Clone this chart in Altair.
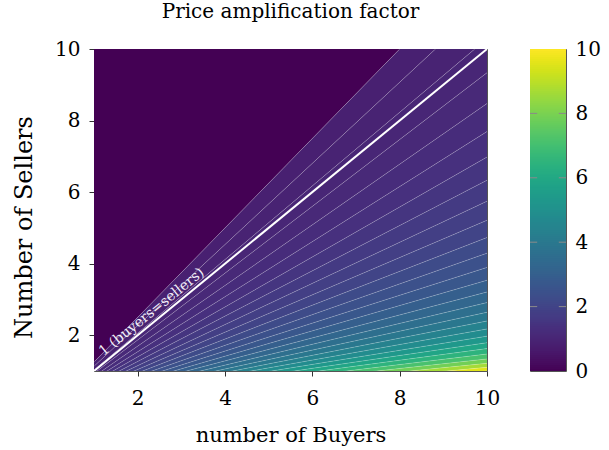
import pandas as pd
import altair as alt

# Plot ranges and tick marks
buyers_range = [1, 10]
sellers_range = [1, 10]
axis_ticks = [2, 4, 6, 8, 10]
colorbar_range = [0, 10]
colorbar_ticks = [0, 2, 4, 6, 8, 10]
colorbar_dashes = [2, 4, 6, 8]

# Filled-contour levels of the amplification factor (geometric, ratio ~1.1)
levels = [0.800, 0.882, 0.972, 1.071, 1.180, 1.300, 1.433, 1.579, 1.740,
          1.918, 2.114, 2.329, 2.567, 2.828, 3.117, 3.435, 3.786, 4.172,
          4.597, 5.066, 5.583, 6.152, 6.780, 7.472, 8.234, 9.074, 10.000]
under_value = 0.0          # colour value used below the lowest level

parity_level = 1.0
parity_label = "1 (buyers=sellers)"
label_at_buyers = 2.45

# The factor is buyers / sellers, so the contour of level c is sellers = buyers / c
band_rows, seam_rows = [], []
top = sellers_range[1]
for b in buyers_range:
    band_rows.append(dict(band=-1, B=b, s_lo=b / levels[0], s_hi=top, value=under_value))
for i in range(len(levels) - 1):
    lo, hi = levels[i], levels[i + 1]
    for b in buyers_range:
        band_rows.append(dict(band=i, B=b, s_lo=b / hi, s_hi=b / lo, value=(lo + hi) / 2))
for i, lev in enumerate(levels):
    for b in buyers_range:
        seam_rows.append(dict(level=i, B=b, S=b / lev))

bands = pd.DataFrame(band_rows)
seams = pd.DataFrame(seam_rows)
parity = pd.DataFrame(dict(B=buyers_range, S=[b / parity_level for b in buyers_range]))
label_df = pd.DataFrame(dict(B=[label_at_buyers], S=[label_at_buyers / parity_level],
                             text=[parity_label]))

# Colour bar: a fine ramp over the colour domain (slices overlap to avoid seams)
n_steps = 160
step = (colorbar_range[1] - colorbar_range[0]) / n_steps
ramp = pd.DataFrame(dict(
    v0=[colorbar_range[0] + k * step for k in range(n_steps)],
    v1=[min(colorbar_range[0] + (k + 2) * step, colorbar_range[1]) for k in range(n_steps)],
))
ramp["v"] = ramp["v0"] + step / 2
ramp["x0"], ramp["x1"] = 0.0, 1.0
dash_rows = []
for t in colorbar_dashes:
    dash_rows.append(dict(v=t, x0=0.0, x1=0.2, side="l"))
    dash_rows.append(dict(v=t, x0=0.8, x1=1.0, side="r"))
dashes = pd.DataFrame(dash_rows)

serif = "DejaVu Serif"
viridis = alt.Scale(scheme="viridis", domain=colorbar_range)
xscale = alt.Scale(domain=buyers_range, nice=False, zero=False)
yscale = alt.Scale(domain=sellers_range, nice=False, zero=False)
x_axis = alt.Axis(values=axis_ticks, title="number of Buyers", labelPadding=12,
                  titlePadding=16, titleFontSize=21, labelFlush=False)
y_axis = alt.Axis(values=axis_ticks, title="Number of Sellers", labelPadding=9,
                  titlePadding=18, titleFontSize=24, titleY=178, labelFlush=False)

filled = alt.Chart(bands).mark_area(clip=True, interpolate="linear").encode(
    x=alt.X("B:Q", scale=xscale, axis=x_axis),
    y=alt.Y("s_lo:Q", scale=yscale, axis=y_axis),
    y2="s_hi:Q",
    detail="band:N",
    color=alt.Color("value:Q", scale=viridis, legend=None),
)

seam_lines = alt.Chart(seams).mark_line(
    clip=True, color="white", strokeWidth=0.6, opacity=0.35
).encode(
    x=alt.X("B:Q", scale=xscale),
    y=alt.Y("S:Q", scale=yscale),
    detail="level:N",
)

parity_line = alt.Chart(parity).mark_line(clip=True, color="white", strokeWidth=2).encode(
    x=alt.X("B:Q", scale=xscale),
    y=alt.Y("S:Q", scale=yscale),
)

parity_text = alt.Chart(label_df).mark_text(
    font=serif, fontSize=14, color="#f2eef8", angle=321, baseline="bottom",
    align="center", dy=-2
).encode(
    x=alt.X("B:Q", scale=xscale),
    y=alt.Y("S:Q", scale=yscale),
    text="text:N",
)

main = alt.layer(filled, seam_lines, parity_line, parity_text).properties(
    width=393,
    height=322,
    title=alt.TitleParams("Price amplification factor", font=serif, fontSize=20,
                          fontWeight="normal", color="black", anchor="middle", offset=17),
)

cb_x = alt.Scale(domain=[0, 1], nice=False, zero=False)
cb_y = alt.Scale(domain=colorbar_range, nice=False, zero=False)
cb_ramp = alt.Chart(ramp).mark_rect(clip=True).encode(
    x=alt.X("x0:Q", scale=cb_x, axis=None),
    x2="x1:Q",
    y=alt.Y("v0:Q", scale=cb_y,
            axis=alt.Axis(orient="right", values=colorbar_ticks, title=None, tickSize=0,
                          labelPadding=9, labelFlush=False, labelBaseline="middle")),
    y2="v1:Q",
    color=alt.Color("v:Q", scale=viridis, legend=None),
)
cb_dash = alt.Chart(dashes).mark_rule(color="#8a8a8a", strokeWidth=1).encode(
    x=alt.X("x0:Q", scale=cb_x),
    x2="x1:Q",
    y=alt.Y("v:Q", scale=cb_y),
    detail="side:N",
)
colorbar = alt.layer(cb_ramp, cb_dash).properties(width=36, height=322)

chart = alt.hconcat(main, colorbar, spacing=28).properties(
    autosize=alt.AutoSizeParams(type="none"),
    padding={"left": 94, "top": 49, "right": 515, "bottom": 401},
).configure_view(
    stroke="#555555", strokeWidth=1
).configure_axis(
    labelFont=serif, labelFontSize=20, labelColor="black",
    titleFont=serif, titleFontWeight="normal", titleColor="black",
    tickColor="#333333", tickSize=5, domain=False, grid=False,
)

chart.save("out.html", embed_options={"renderer": "svg", "actions": False})
